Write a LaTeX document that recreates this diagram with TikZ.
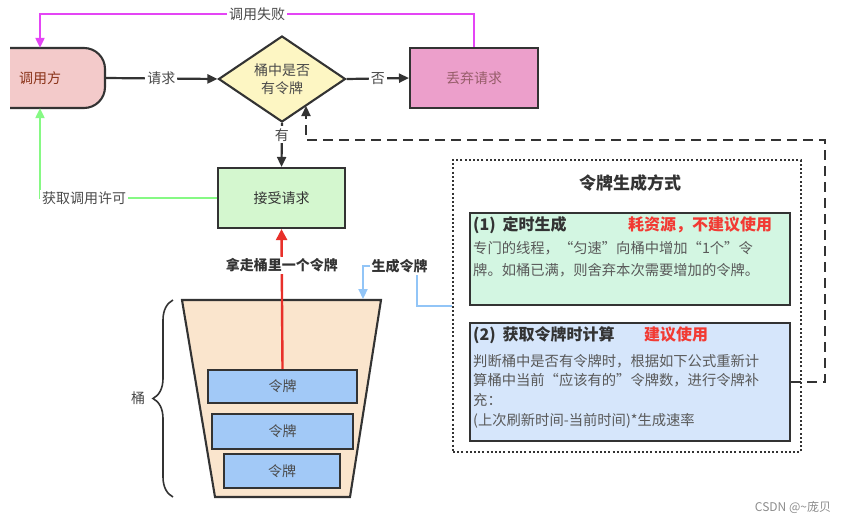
\documentclass[tikz,border=0pt]{standalone}
\usepackage{fontspec}
\setmainfont{Noto Sans CJK SC}
\usetikzlibrary{shapes.geometric,arrows.meta,decorations.pathreplacing}
\definecolor{callerc}{HTML}{F3CACA}
\definecolor{diac}{HTML}{FDF6C3}
\definecolor{dropc}{HTML}{EC9FCB}
\definecolor{accc}{HTML}{D4F7CF}
\definecolor{b1c}{HTML}{D3F6E2}
\definecolor{b2c}{HTML}{D6E6FB}
\definecolor{tokc}{HTML}{A2C9F7}
\definecolor{bucc}{HTML}{FAE5CD}
\definecolor{edge}{HTML}{333333}
\definecolor{pinkl}{HTML}{E445F5}
\definecolor{greenl}{HTML}{86F984}
\definecolor{redl}{HTML}{E8302A}
\definecolor{bluel}{HTML}{92C5F7}
\definecolor{lblc}{HTML}{4A4A4A}
\definecolor{redt}{HTML}{F23A33}
\tikzset{
  boxline/.style={draw=edge, line width=2.1pt},
  procbox/.style={boxline, minimum width=127pt, minimum height=60pt, inner sep=0pt, font=\fontsize{14}{17}\selectfont, text=lblc},
  tokbox/.style={boxline, fill=tokc, inner sep=0pt, font=\fontsize{14}{17}\selectfont, text=lblc},
  lbl/.style={fill=white, inner sep=2pt, text=lblc, font=\fontsize{14}{17}\selectfont},
  arr/.style={draw=edge, line width=2.2pt, -{Triangle[length=10pt,width=9pt]}},
}
\begin{document}
\begin{tikzpicture}[x=1pt,y=-1pt]
\useasboundingbox (0,0) rectangle (850,522);
% caller
\begin{scope}
\clip (10,0) rectangle (200,200);
\draw[boxline, fill=callerc, rounded corners=21pt] (-25,48) rectangle (105,108);
\end{scope}
\node[minimum width=130pt, minimum height=60pt, inner sep=0pt, text=black!60!red!60!brown, font=\fontsize{14}{17}\selectfont] (caller) at (40,78) {调用方};
% diamond
\node[diamond, boxline, fill=diac, aspect=1.48, minimum width=127pt, minimum height=86pt, inner sep=0pt, align=center, text=lblc, font=\fontsize{14}{18}\selectfont] (dia) at (282,79) {桶中是否\\有令牌};
% drop
\node[procbox, fill=dropc, minimum width=128pt, text=black!55!magenta!70!brown] (drop) at (474,78) {丢弃请求};
% accept
\node[procbox, fill=accc, text=edge] (accept) at (281.5,198) {接受请求};
% main arrows
\draw[arr] (caller.east) -- node[lbl]{请求} (dia.west);
\draw[arr] (dia.east) -- node[lbl]{否} (drop.west);
\draw[arr] (dia.south) -- node[lbl, pos=0.27]{有} (accept.north);
% fail
\coordinate (topy) at (0,14);
\draw[pinkl, line width=2.2pt, -{Triangle[length=10pt,width=9pt]}] (drop.north) -- (drop.north |- topy) -- node[lbl]{调用失败} (caller.north |- topy) -- (caller.north);
% permit
\draw[greenl, line width=2.2pt, -{Triangle[length=10pt,width=9pt]}] (accept.west) -- node[lbl, pos=0.75]{获取调用许可} (caller.south |- accept.west) -- (caller.south);
% bucket
\draw[boxline, fill=bucc] (182,300) -- (381,300) -- (350,497) -- (215,497) -- cycle;
\coordinate (btop) at (363,299);
\node[tokbox, minimum width=149pt, minimum height=33pt] (tok1) at (282.5,386.5) {令牌};
\node[tokbox, minimum width=141pt, minimum height=35pt] (tok2) at (282.5,431.5) {令牌};
\node[tokbox, minimum width=116pt, minimum height=34pt] (tok3) at (282,471) {令牌};
\draw[decorate, decoration={brace, amplitude=20pt}, draw=edge, line width=1.6pt] (173,497) -- (173,300);
\node[lbl] (tong) at (138,398) {桶};
% red arrow
\draw[redl, line width=2.4pt, -{Triangle[length=11pt,width=11pt]}] (tok1.north) -- node[lbl, pos=0.74, font=\bfseries\fontsize{14}{17}\selectfont, text=edge]{拿走桶里一个令牌} (accept.south);
% generation box
\node[draw=edge, line width=2pt, dash pattern=on 2pt off 2.2pt, minimum width=348pt, minimum height=292pt, inner sep=0pt] (gen) at (627,306) {};
\node[font=\bfseries\fontsize{17}{20}\selectfont, text=edge] (gtitle) at (630,183) {令牌生成方式};
\node[boxline, fill=b1c, minimum width=320pt, minimum height=92pt, inner sep=0pt] (b1) at (630,259) {};
\node[boxline, fill=b2c, minimum width=320pt, minimum height=118pt, inner sep=0pt] (b2) at (630,382) {};
\node[anchor=west, inner sep=0pt, font=\bfseries\fontsize{16}{19}\selectfont, text=edge] (h1) at (473,225) {(1)\hspace{7pt}定时生成};
\node[inner sep=0pt, font=\bfseries\fontsize{16}{19}\selectfont, text=redt] (r1) at (700,225) {耗资源，不建议使用};
\node[anchor=north west, inner sep=0pt, align=left, font=\fontsize{14.3}{22}\selectfont, text=black!65] (t1) at (473,241) {专门的线程，“匀速”向桶中增加“1个”令\\牌。如桶已满，则舍弃本次需要增加的令牌。};
\node[anchor=west, inner sep=0pt, font=\bfseries\fontsize{16}{19}\selectfont, text=edge] (h2) at (473,335) {(2)\hspace{7pt}获取令牌时计算};
\node[inner sep=0pt, font=\bfseries\fontsize{16}{19}\selectfont, text=redt] (r2) at (676,335) {建议使用};
\node[anchor=north west, inner sep=0pt, align=left, font=\fontsize{14.3}{19.7}\selectfont, text=black!65] (t2) at (473,354) {判断桶中是否有令牌时，根据如下公式重新计\\算桶中当前“应该有的”令牌数，进行令牌补\\充：\\(上次刷新时间-当前时间)*生成速率};
% dashed feedback
\coordinate (dtip) at (306,106);
\draw[edge, line width=2.2pt, dash pattern=on 10pt off 6pt, -{Triangle[length=10pt,width=9pt]}] (b2.east) -- (825,382) -- (825,140) -- (dtip |- 0,140) -- (dtip);
% blue generate
\draw[bluel, line width=2.2pt, -{Triangle[length=10pt,width=9pt]}] (gen.west) -- (417,306) |- node[lbl, pos=0.66, font=\bfseries\fontsize{14}{17}\selectfont, text=edge]{生成令牌} (btop |- 0,266) -- (btop);
% watermark
\node[text=black!45, font=\fontsize{12}{14}\selectfont] (wm) at (793,507) {CSDN @\textasciitilde 庞贝};
\end{tikzpicture}
\end{document}
